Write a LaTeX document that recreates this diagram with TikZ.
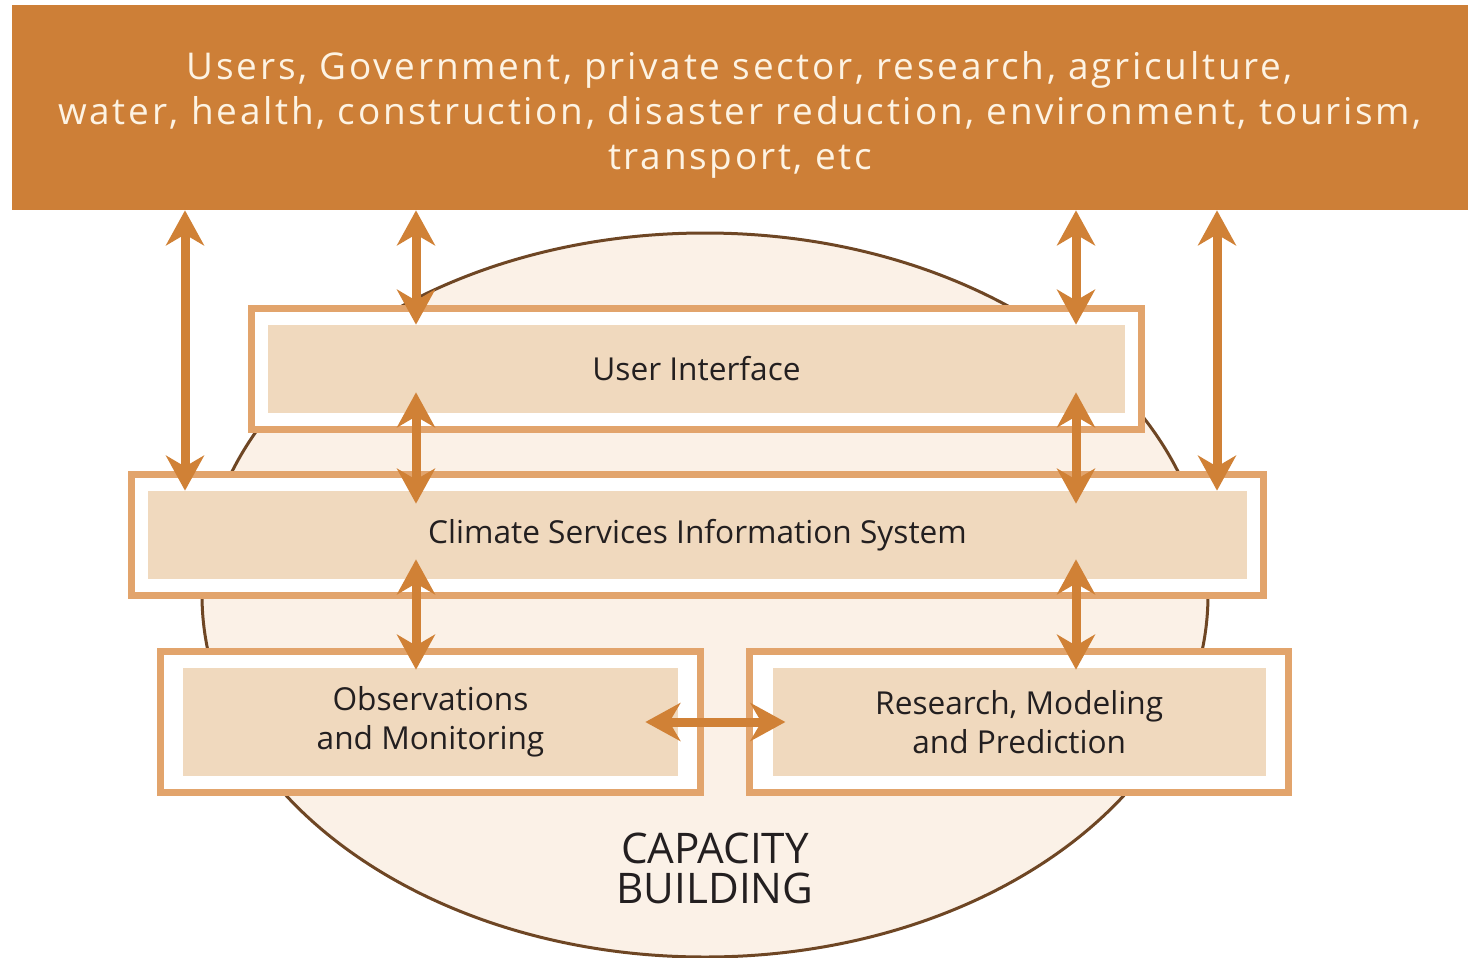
\documentclass[tikz,border=0pt]{standalone}
\usepackage{fontspec}
\setmainfont{Open Sans}
\usetikzlibrary{arrows.meta,positioning,fit,backgrounds}
\definecolor{bannerc}{HTML}{CD7F37}
\definecolor{arrowc}{HTML}{D08136}
\definecolor{framec}{HTML}{E2A46C}
\definecolor{blockc}{HTML}{F0D9BE}
\definecolor{capc}{HTML}{FBF1E7}
\definecolor{rimc}{HTML}{6E4624}
\definecolor{ink}{HTML}{231F20}
\definecolor{paper}{HTML}{FDF3E3}

\begin{document}
\begin{tikzpicture}[x=0.2mm,y=-0.2mm,>={Stealth[length=7mm,width=7.6mm,inset=2.2mm]},
    link/.style={<->,draw=arrowc,line width=1.8mm},
    frame/.style={draw=framec,line width=1.4mm,fill=white,inner sep=3.3mm},
    block/.style={fill=blockc,inner sep=0pt,text=ink,align=center,
        font=\fontsize{18}{22.2}\selectfont},
    node distance=18.8mm]
    \useasboundingbox (0,0) rectangle (1468,958);
    \node[fill=bannerc,minimum width=291.2mm,minimum height=41mm,
        label={[text=paper,align=center,yshift=-1.4mm,
            font=\fontsize{21}{25.6}\selectfont\addfontfeatures{LetterSpace=7.4}]center:
        Users, Government, private sector, research, agriculture,\\
        water, health, construction, disaster reduction, environment, tourism,\\
        transport, etc}] (users) at (740,107.5) {};
    \node[block,minimum width=171.4mm,minimum height=17.6mm] (ui) at (696.5,369) {User Interface};
    \node[block,minimum width=219.8mm,minimum height=17.6mm] (csis) at (697.5,535)
        {Climate Services Information System};
    \node[block,minimum width=99mm,minimum height=21.6mm] (obs) at (430.5,722)
        {Observations\\and Monitoring};
    \node[block,minimum width=98.6mm,minimum height=21.6mm] (rmp) [right=of obs]
        {Research, Modeling\\and Prediction};
    \node[text=ink,align=center,font=\fontsize{24}{22.8}\selectfont] (cb) at (715,868)
        {CAPACITY\\BUILDING};
    \begin{scope}[on background layer]
    \draw[draw=rimc,fill=capc,line width=0.6mm] (705,595) ellipse [x radius=503,y radius=362];
    \node[frame,fit=(ui)] {};
    \node[frame,fit=(csis)] {};
    \node[frame,inner xsep=4.5mm,fit=(obs)] {};
    \node[frame,inner xsep=4.5mm,fit=(rmp)] {};
    \end{scope}
    \coordinate (x1) at (185,0);
    \coordinate (x2) at (416,0);
    \coordinate (x3) at (1076,0);
    \coordinate (x4) at (1217,0);
    \path
    (users.south -| x1) edge [link] (csis.north -| x1)
    (users.south -| x2) edge [link] (ui.north -| x2)
    (users.south -| x3) edge [link] (ui.north -| x3)
    (users.south -| x4) edge [link] (csis.north -| x4)
    ([yshift=4.2mm]ui.south -| x2) edge [link] ([yshift=-2.6mm]csis.north -| x2)
    ([yshift=4.2mm]ui.south -| x3) edge [link] ([yshift=-2.6mm]csis.north -| x3)
    ([yshift=4mm]csis.south -| x2) edge [link] ([yshift=-0.4mm]obs.north -| x2)
    ([yshift=4mm]csis.south -| x3) edge [link] ([yshift=-0.4mm]rmp.north -| x3)
    ([xshift=-6.6mm]obs.east) edge [link] ([xshift=2.6mm]rmp.west)
;
\end{tikzpicture}
\end{document}
